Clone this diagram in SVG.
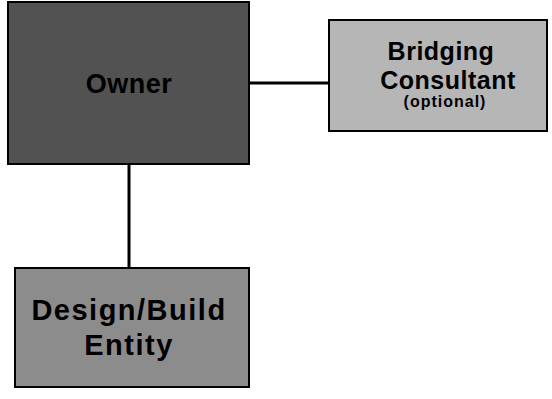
<svg xmlns="http://www.w3.org/2000/svg" width="552" height="399" viewBox="0 0 552 399">
  <style>
    .box { stroke: #000; stroke-width: 2; }
    .label { font-family: "Liberation Sans", Arial, sans-serif; font-weight: bold; fill: #000; text-anchor: middle; }
    .owner-label { font-size: 27px; letter-spacing: 0.5px; }
    .mid { font-size: 25px; letter-spacing: 0.5px; }
    .big { font-size: 29px; letter-spacing: 1.5px; }
    .small { font-size: 16px; letter-spacing: 1px; }
    .wire { stroke: #000; stroke-width: 3; fill: none; }
  </style>
  <rect width="552" height="399" fill="#fff"/>

  <g id="connectors">
    <line class="wire" x1="249" y1="83" x2="329" y2="83"/>
    <line class="wire" x1="129" y1="164" x2="129" y2="268"/>
  </g>

  <g id="owner">
    <rect class="box" x="8" y="2" width="241" height="162" fill="#525252"/>
    <text class="label owner-label" x="129" y="93">Owner</text>
  </g>

  <g id="bridging-consultant">
    <rect class="box" x="329" y="20" width="218" height="111" fill="#b6b6b6"/>
    <text class="label mid" x="441" y="60">Bridging</text>
    <text class="label mid" x="448" y="89">Consultant</text>
    <text class="label small" x="445" y="107">(optional)</text>
  </g>

  <g id="design-build-entity">
    <rect class="box" x="15" y="268" width="234" height="119" fill="#8c8c8c"/>
    <text class="label big" x="129" y="320">Design/Build</text>
    <text class="label big" x="129" y="355">Entity</text>
  </g>
</svg>
